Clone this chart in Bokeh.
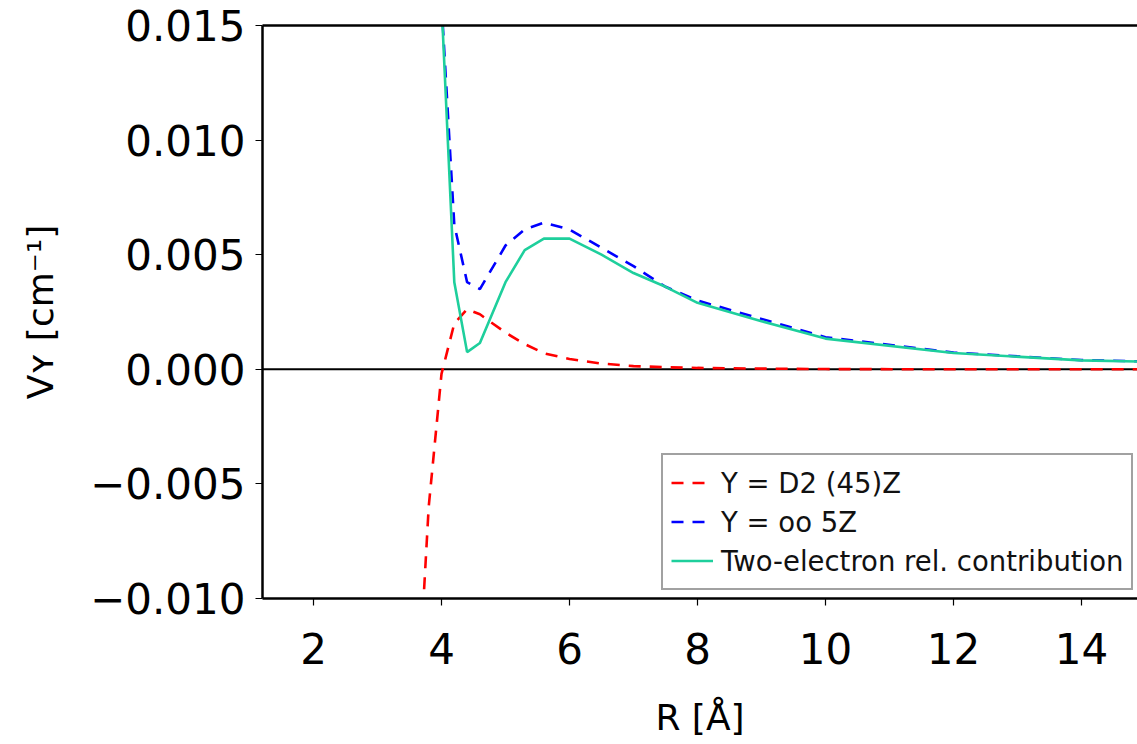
from bokeh.plotting import figure
from bokeh.models import (Range1d, LinearAxis, FixedTicker, Span, Legend,
                          LegendItem, CustomJSTickFormatter)
from bokeh.embed import file_html
from bokeh.resources import INLINE

# ---- data ----
R_d2 = [3.6, 3.8, 4.0, 4.2, 4.4, 4.6, 5.0, 5.3, 5.6, 6.0, 6.5, 7.0, 7.5, 8.0, 9.0, 10.0, 12.0, 14.0, 16.0]
V_d2 = [-0.0160, -0.0060, -0.0002, 0.0020, 0.00262, 0.0024, 0.0016, 0.0011, 0.0007, 0.00045,
        0.00025, 0.00014, 0.00009, 0.00006, 0.00003, 0.00001, 0.0, 0.0, 0.0]

R_oo = [4.0, 4.2, 4.4, 4.6, 5.0, 5.3, 5.6, 6.0, 6.5, 7.0, 7.5, 8.0, 9.0, 10.0, 12.0, 14.0, 16.0]
V_oo = [0.0160, 0.0063, 0.0038, 0.0035, 0.0054, 0.0061, 0.0064, 0.0061, 0.0053, 0.0045,
        0.0036, 0.0030, 0.0022, 0.0014, 0.00073, 0.00040, 0.00028]

R_two = [4.0, 4.2, 4.4, 4.6, 5.0, 5.3, 5.6, 6.0, 6.5, 7.0, 7.5, 8.0, 9.0, 10.0, 12.0, 14.0, 16.0]
V_two = [0.0160, 0.0038, 0.00075, 0.00115, 0.0038, 0.0052, 0.0057, 0.0057, 0.0050, 0.0042,
         0.0036, 0.0029, 0.0021, 0.00134, 0.00071, 0.00039, 0.00027]

labels = ["Y = D2 (45)Z", "Y = oo 5Z", "Two-electron rel. contribution"]
x_ticks = [2, 4, 6, 8, 10, 12, 14]
y_ticks = [-0.010, -0.005, 0.0, 0.005, 0.010, 0.015]
x_title = "R [\u00c5]"
y_title = "V\u028f [cm\u207b\u00b9]"

FONT = "DejaVu Sans"

p = figure(width=1137, height=744, output_backend="svg", toolbar_location=None,
           x_range=Range1d(1.203, 14.875), y_range=Range1d(-0.010, 0.015),
           min_border_left=262, min_border_right=0, min_border_top=25, min_border_bottom=146)
p.outline_line_color = None
p.xgrid.grid_line_color = None
p.ygrid.grid_line_color = None
p.background_fill_color = "white"
p.border_fill_color = "white"

for ax in (p.xaxis[0], p.yaxis[0]):
    ax.axis_line_color = "black"
    ax.axis_line_width = 2.5
    ax.major_tick_line_color = "black"
    ax.major_tick_line_width = 1.2
    ax.major_tick_out = 7
    ax.major_tick_in = 0
    ax.minor_tick_line_color = None
    ax.major_label_text_font = FONT
    ax.major_label_text_color = "black"
    ax.axis_label_text_font = FONT
    ax.axis_label_text_font_style = "normal"
    ax.axis_label_text_color = "black"

p.xaxis.ticker = FixedTicker(ticks=x_ticks)
p.yaxis.ticker = FixedTicker(ticks=y_ticks)
p.xaxis.major_label_text_font_size = "42px"
p.yaxis.major_label_text_font_size = "42px"
p.xaxis.major_label_standoff = 27
p.yaxis.major_label_standoff = 10
p.yaxis.formatter = CustomJSTickFormatter(
    code="return (tick < -1e-9 ? '\\u2212' : '') + Math.abs(tick).toFixed(3);")

p.xaxis.axis_label = x_title
p.xaxis.axis_label_text_font_size = "36px"
p.xaxis.axis_label_standoff = 30
p.yaxis.axis_label = y_title
p.yaxis.axis_label_text_font_size = "36px"
p.yaxis.axis_label_standoff = 26

top = LinearAxis(ticker=FixedTicker(ticks=[]), axis_line_color="black", axis_line_width=2.5,
                 major_tick_line_color=None, minor_tick_line_color=None,
                 major_label_text_font_size="0px")
p.add_layout(top, "above")

p.add_layout(Span(location=0, dimension="width", line_color="black", line_width=2, level="underlay"))

r1 = p.line(R_d2, V_d2, line_color="#ff0000", line_width=2.6, line_dash="12 9")
r2 = p.line(R_oo, V_oo, line_color="#0000ff", line_width=2.6, line_dash="12 9")
r3 = p.line(R_two, V_two, line_color="#1ecf9c", line_width=2.6)

legend = Legend(items=[LegendItem(label=labels[0], renderers=[r1]),
                       LegendItem(label=labels[1], renderers=[r2]),
                       LegendItem(label=labels[2], renderers=[r3])],
                location=(399, 8))
legend.label_text_font = FONT
legend.label_text_font_size = "27.5px"
legend.label_text_color = "#111111"
legend.glyph_width = 42
legend.glyph_height = 39
legend.label_height = 39
legend.spacing = 0
legend.padding = 8
legend.margin = 0
legend.label_standoff = 8
legend.border_line_color = "#444444"
legend.border_line_width = 2
legend.background_fill_color = "white"
legend.background_fill_alpha = 1.0
p.add_layout(legend)

open("out.html", "w").write(file_html(p, INLINE))
